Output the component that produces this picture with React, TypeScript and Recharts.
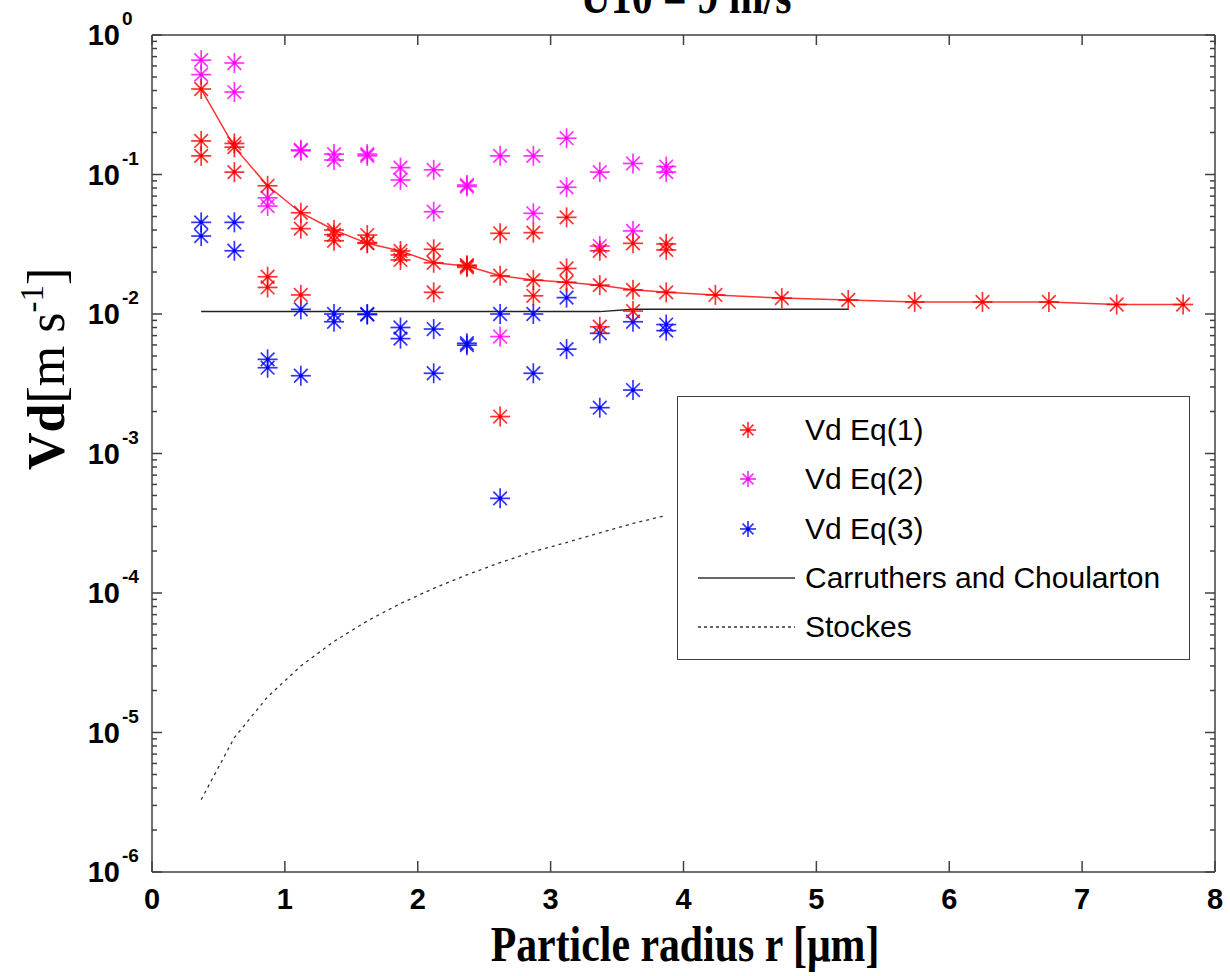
import React from 'react';
import { ComposedChart, Line, Scatter, XAxis, YAxis, Legend } from 'recharts';

// particle radius columns (µm)
const RADII = [0.37, 0.62, 0.87, 1.12, 1.37, 1.62, 1.87, 2.12, 2.37, 2.62, 2.87, 3.12, 3.37, 3.62, 3.87, 4.24, 4.74, 5.24, 5.74, 6.25, 6.75, 7.26, 7.76];

// Vd Eq(1) fitted curve, one value per radius
const VD1_CURVE = [0.41, 0.157, 0.083, 0.0532, 0.040, 0.0321, 0.0283, 0.0233, 0.0221, 0.0188, 0.0175, 0.0169, 0.0161, 0.0149, 0.0143, 0.0137, 0.0130, 0.0126, 0.0122, 0.0122, 0.0122, 0.0117, 0.0117];

// scattered estimates, two per radius for the first 15 radii
const VD1_A = [0.174, 0.167, 0.0185, 0.0409, 0.037, 0.0368, 0.0265, 0.0291, 0.0216, 0.0379, 0.0383, 0.0493, 0.0284, 0.0321, 0.0318];
const VD1_B = [0.136, 0.104, 0.0155, 0.0137, 0.0335, 0.0325, 0.0244, 0.0143, 0.0224, 0.00184, 0.0135, 0.0212, 0.0081, 0.0105, 0.0288];
const VD2_A = [0.66, 0.63, 0.068, 0.150, 0.140, 0.140, 0.112, 0.108, 0.084, 0.136, 0.136, 0.182, 0.104, 0.120, 0.114];
const VD2_B = [0.52, 0.39, 0.0594, 0.148, 0.127, 0.136, 0.0914, 0.0541, 0.082, 0.00689, 0.0527, 0.081, 0.0307, 0.0394, 0.104];
const VD3_A = [0.0454, 0.0454, 0.00473, 0.0108, 0.0100, 0.0100, 0.0080, 0.0078, 0.00617, 0.0100, 0.0100, 0.0131, 0.00727, 0.0088, 0.0084];
const VD3_B = [0.0362, 0.0284, 0.00412, 0.00361, 0.0088, 0.0099, 0.00666, 0.00376, 0.00598, 0.000477, 0.00376, 0.0056, 0.00213, 0.00285, 0.0076];

// Carruthers and Choularton, first 18 radii
const CC_V = [0.0104, 0.0104, 0.0104, 0.0104, 0.0104, 0.0104, 0.0104, 0.0104, 0.0104, 0.0104, 0.0104, 0.0104, 0.0104, 0.0108, 0.0108, 0.0108, 0.0108, 0.0108];

// Stokes settling velocity, first 15 radii
const STOKES_V = [3.3e-6, 9.2e-6, 1.8e-5, 3.0e-5, 4.5e-5, 6.3e-5, 8.4e-5, 1.08e-4, 1.35e-4, 1.65e-4, 1.98e-4, 2.3e-4, 2.7e-4, 3.15e-4, 3.6e-4];

const X_TICKS = [0, 1, 2, 3, 4, 5, 6, 7, 8];
const Y_TICKS: number[] = [];
for (let e = -6; e <= 0; e++) {
  Y_TICKS.push(Math.pow(10, e));
  if (e < 0) for (let k = 2; k <= 9; k++) Y_TICKS.push(k * Math.pow(10, e));
}

const W = 1230;
const H = 976;
const PLOT = { left: 152, right: 1215, top: 35, bottom: 872 };
const AXIS_COLOR = '#404040';
const SANS = 'Arial, "Liberation Sans", sans-serif';
const SERIF = '"Times New Roman", "Liberation Serif", serif';

const RED = '#ff0000';
const MAGENTA = '#ff00ff';
const BLUE = '#0000ff';

const pts = (rs: number[], vs: number[]) => vs.map((v, i) => ({ r: rs[i], v }));

const vd1Curve = pts(RADII, VD1_CURVE);
const vd1Scatter = [...pts(RADII, VD1_A), ...pts(RADII, VD1_B)];
const vd2Scatter = [...pts(RADII, VD2_A), ...pts(RADII, VD2_B)];
const vd3Scatter = [...pts(RADII, VD3_A), ...pts(RADII, VD3_B)];
const ccLine = pts(RADII, CC_V);
const stokesLine = pts(RADII, STOKES_V);

function StarMark({ cx, cy, color, size = 10 }: any) {
  if (cx == null || cy == null) return null;
  const d = size * 0.68;
  return (
    <g stroke={color} strokeWidth={1.7} strokeOpacity={0.8}>
      <line x1={cx - size} y1={cy} x2={cx + size} y2={cy} />
      <line x1={cx} y1={cy - size} x2={cx} y2={cy + size} />
      <line x1={cx - d} y1={cy - d} x2={cx + d} y2={cy + d} />
      <line x1={cx - d} y1={cy + d} x2={cx + d} y2={cy - d} />
      <circle cx={cx} cy={cy} r={1.8} fill={color} stroke="none" />
    </g>
  );
}

const isMajor = (v: number) => {
  const e = Math.log10(v);
  return Math.abs(e - Math.round(e)) < 1e-6;
};

function BottomTick({ x, payload }: any) {
  return (
    <g>
      <line x1={x} x2={x} y1={PLOT.bottom} y2={PLOT.bottom - 11} stroke={AXIS_COLOR} strokeWidth={1.5} />
      <text x={x} y={909} textAnchor="middle" fontFamily={SANS} fontWeight="bold" fontSize={29} fill="#000">
        {payload.value}
      </text>
    </g>
  );
}

function TopTick({ x }: any) {
  return <line x1={x} x2={x} y1={PLOT.top} y2={PLOT.top + 10} stroke={AXIS_COLOR} strokeWidth={1.5} />;
}

function LeftTick({ y, payload }: any) {
  const major = isMajor(payload.value);
  const exp = Math.round(Math.log10(payload.value));
  return (
    <g>
      <line x1={PLOT.left} x2={PLOT.left + (major ? 10 : 5)} y1={y} y2={y} stroke={AXIS_COLOR} strokeWidth={1.5} />
      {major && (
        <text x={120} y={y + 10} textAnchor="end" fontFamily={SANS} fontWeight="bold" fontSize={29} fill="#000">
          10
        </text>
      )}
      {major && (
        <text x={122} y={y - 10} fontFamily={SANS} fontWeight="bold" fontSize={19} fill="#000">
          {exp === 0 ? '0' : `-${-exp}`}
        </text>
      )}
    </g>
  );
}

function RightTick({ y, payload }: any) {
  const major = isMajor(payload.value);
  return <line x1={PLOT.right} x2={PLOT.right - (major ? 10 : 5)} y1={y} y2={y} stroke={AXIS_COLOR} strokeWidth={1.5} />;
}

function XTitle() {
  return (
    <text transform="translate(685, 961) scale(0.82, 1)" textAnchor="middle" fontFamily={SERIF} fontWeight="bold" fontSize={51} fill="#000">
      Particle radius r [μm]
    </text>
  );
}

// the title sits partly above the canvas edge
function TopTitle() {
  return (
    <text transform="translate(686, 13) scale(0.82, 1)" textAnchor="middle" fontFamily={SERIF} fontWeight="bold" fontSize={51} fill="#000">
      U10 = 9 m/s
    </text>
  );
}

function YTitle() {
  return (
    <text transform="translate(64, 470) rotate(-90)" fontFamily={SERIF} fontSize={52} fill="#000">
      <tspan fontWeight="bold">Vd</tspan>
      <tspan>[m s</tspan>
      <tspan fontSize={33} dy={-21}>-1</tspan>
      <tspan dy={21}>]</tspan>
    </text>
  );
}

const LEGEND_ITEMS = [
  { label: 'Vd Eq(1)', kind: 'star', color: RED },
  { label: 'Vd Eq(2)', kind: 'star', color: MAGENTA },
  { label: 'Vd Eq(3)', kind: 'star', color: BLUE },
  { label: 'Carruthers and Choularton', kind: 'solid', color: '#333' },
  { label: 'Stockes', kind: 'dotted', color: '#333' },
];

function LegendBox() {
  return (
    <div
      style={{
        width: 513,
        height: 264,
        boxSizing: 'border-box',
        border: `1.5px solid ${AXIS_COLOR}`,
        background: '#fff',
        position: 'relative',
        fontFamily: SANS,
        fontSize: 30,
        color: '#000',
      }}
    >
      {LEGEND_ITEMS.map((item, i) => (
        <div key={item.label} style={{ position: 'absolute', left: 0, top: 13 + i * 49.3, width: '100%', height: 40 }}>
          <svg width={120} height={40} style={{ position: 'absolute', left: 0, top: 0 }}>
            {item.kind === 'star' && <StarMark cx={70} cy={20} color={item.color} size={8} />}
            {item.kind !== 'star' && (
              <line
                x1={20}
                x2={117}
                y1={20}
                y2={20}
                stroke={item.color}
                strokeWidth={1.5}
                strokeDasharray={item.kind === 'dotted' ? '3 3' : undefined}
              />
            )}
          </svg>
          <span style={{ position: 'absolute', left: 127, top: 0, lineHeight: '40px', whiteSpace: 'nowrap' }}>{item.label}</span>
        </div>
      ))}
    </div>
  );
}

export default function App() {
  const axisLine = { stroke: AXIS_COLOR, strokeWidth: 1.5 };
  return (
    <div style={{ position: 'absolute', left: 0, top: 0, width: W, height: H, background: '#fff' }}>
      <ComposedChart width={W} height={H} margin={{ top: 25, right: 5, bottom: 64, left: 92 }}>
        <XAxis
          dataKey="r"
          type="number"
          domain={[0, 8]}
          ticks={X_TICKS}
          interval={0}
          height={40}
          allowDataOverflow
          axisLine={axisLine}
          tickLine={false}
          tick={(p: any) => <BottomTick {...p} />}
          label={<XTitle />}
        />
        <XAxis
          xAxisId="top"
          orientation="top"
          dataKey="r"
          type="number"
          domain={[0, 8]}
          ticks={X_TICKS}
          interval={0}
          height={10}
          allowDataOverflow
          axisLine={axisLine}
          tickLine={false}
          tick={(p: any) => <TopTick {...p} />}
          label={<TopTitle />}
        />
        <YAxis
          type="number"
          scale="log"
          domain={[1e-6, 1]}
          ticks={Y_TICKS}
          interval={0}
          width={60}
          allowDataOverflow
          axisLine={axisLine}
          tickLine={false}
          tick={(p: any) => <LeftTick {...p} />}
          label={<YTitle />}
        />
        <YAxis
          yAxisId="right"
          orientation="right"
          type="number"
          scale="log"
          domain={[1e-6, 1]}
          ticks={Y_TICKS}
          interval={0}
          width={10}
          allowDataOverflow
          axisLine={axisLine}
          tickLine={false}
          tick={(p: any) => <RightTick {...p} />}
        />
        <Line
          data={stokesLine}
          dataKey="v"
          type="linear"
          stroke="#333"
          strokeWidth={1.3}
          strokeDasharray="3 4"
          dot={false}
          isAnimationActive={false}
        />
        <Line data={ccLine} dataKey="v" type="linear" stroke="#222" strokeWidth={1.5} dot={false} isAnimationActive={false} />
        <Scatter
          data={vd2Scatter}
          dataKey="v"
          shape={(p: any) => <StarMark cx={p.cx} cy={p.cy} color={MAGENTA} />}
          isAnimationActive={false}
        />
        <Scatter
          data={vd3Scatter}
          dataKey="v"
          shape={(p: any) => <StarMark cx={p.cx} cy={p.cy} color={BLUE} />}
          isAnimationActive={false}
        />
        <Scatter
          data={vd1Scatter}
          dataKey="v"
          shape={(p: any) => <StarMark cx={p.cx} cy={p.cy} color={RED} />}
          isAnimationActive={false}
        />
        <Line
          data={vd1Curve}
          dataKey="v"
          type="linear"
          stroke={RED}
          strokeOpacity={0.8}
          strokeWidth={1.5}
          dot={(p: any) => <StarMark key={`c${p.index}`} cx={p.cx} cy={p.cy} color={RED} />}
          isAnimationActive={false}
        />
        <Legend
          layout="horizontal"
          verticalAlign="middle"
          align="center"
          width={513}
          height={264}
          wrapperStyle={{ left: 677, top: 396, right: 'auto', bottom: 'auto' }}
          content={() => <LegendBox />}
        />
      </ComposedChart>
    </div>
  );
}
